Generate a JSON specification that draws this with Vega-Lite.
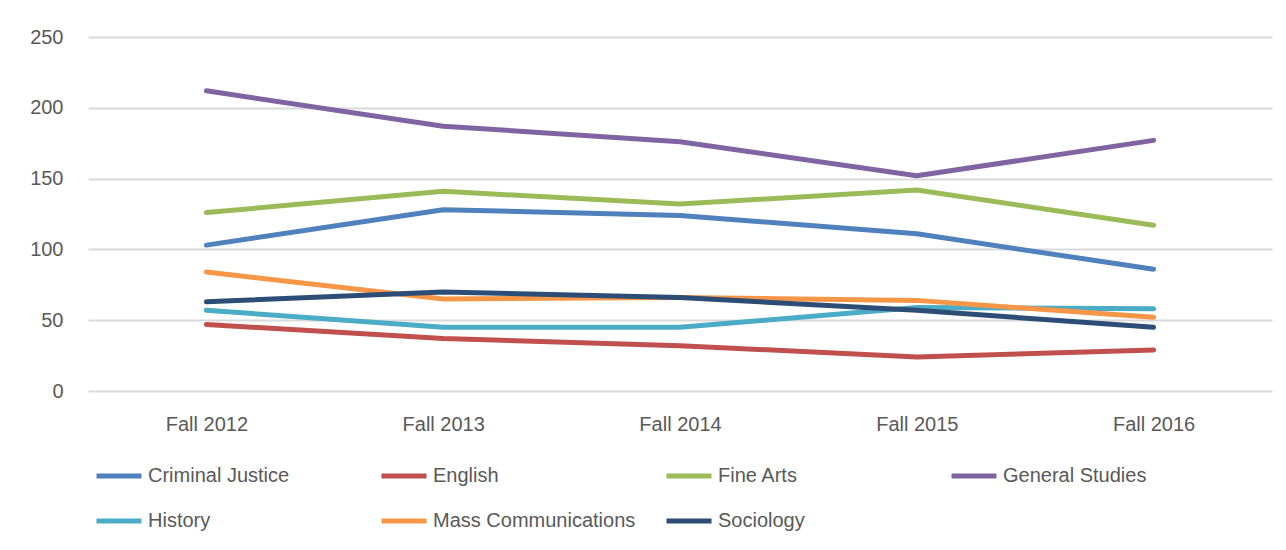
{
  "$schema": "https://vega.github.io/schema/vega-lite/v6.json",
  "width": 1184,
  "height": 354,
  "autosize": {"type": "none"},
  "padding": {"left": 88, "top": 37, "right": 14, "bottom": 159},
  "background": "white",
  "config": {
    "view": {"stroke": null},
    "font": "Liberation Sans",
    "axis": {"labelColor": "#595959", "labelFont": "Liberation Sans", "labelFontSize": 20}
  },
  "data": {
    "values": [
      {"term": "Fall 2012", "major": "Criminal Justice", "count": 103},
      {"term": "Fall 2013", "major": "Criminal Justice", "count": 128},
      {"term": "Fall 2014", "major": "Criminal Justice", "count": 124},
      {"term": "Fall 2015", "major": "Criminal Justice", "count": 111},
      {"term": "Fall 2016", "major": "Criminal Justice", "count": 86},
      {"term": "Fall 2012", "major": "English", "count": 47},
      {"term": "Fall 2013", "major": "English", "count": 37},
      {"term": "Fall 2014", "major": "English", "count": 32},
      {"term": "Fall 2015", "major": "English", "count": 24},
      {"term": "Fall 2016", "major": "English", "count": 29},
      {"term": "Fall 2012", "major": "Fine Arts", "count": 126},
      {"term": "Fall 2013", "major": "Fine Arts", "count": 141},
      {"term": "Fall 2014", "major": "Fine Arts", "count": 132},
      {"term": "Fall 2015", "major": "Fine Arts", "count": 142},
      {"term": "Fall 2016", "major": "Fine Arts", "count": 117},
      {"term": "Fall 2012", "major": "General Studies", "count": 212},
      {"term": "Fall 2013", "major": "General Studies", "count": 187},
      {"term": "Fall 2014", "major": "General Studies", "count": 176},
      {"term": "Fall 2015", "major": "General Studies", "count": 152},
      {"term": "Fall 2016", "major": "General Studies", "count": 177},
      {"term": "Fall 2012", "major": "History", "count": 57},
      {"term": "Fall 2013", "major": "History", "count": 45},
      {"term": "Fall 2014", "major": "History", "count": 45},
      {"term": "Fall 2015", "major": "History", "count": 59},
      {"term": "Fall 2016", "major": "History", "count": 58},
      {"term": "Fall 2012", "major": "Mass Communications", "count": 84},
      {"term": "Fall 2013", "major": "Mass Communications", "count": 65},
      {"term": "Fall 2014", "major": "Mass Communications", "count": 66},
      {"term": "Fall 2015", "major": "Mass Communications", "count": 64},
      {"term": "Fall 2016", "major": "Mass Communications", "count": 52},
      {"term": "Fall 2012", "major": "Sociology", "count": 63},
      {"term": "Fall 2013", "major": "Sociology", "count": 70},
      {"term": "Fall 2014", "major": "Sociology", "count": 66},
      {"term": "Fall 2015", "major": "Sociology", "count": 57},
      {"term": "Fall 2016", "major": "Sociology", "count": 45}
    ]
  },
  "mark": {"type": "line", "strokeWidth": 5, "strokeCap": "round", "strokeJoin": "round"},
  "encoding": {
    "x": {
      "field": "term",
      "type": "ordinal",
      "scale": {"type": "point", "padding": 0.5},
      "axis": {"title": null, "labelAngle": 0, "domain": false, "ticks": false, "grid": false, "labelPadding": 23}
    },
    "y": {
      "field": "count",
      "type": "quantitative",
      "scale": {"domain": [0, 250], "nice": false},
      "axis": {"title": null, "values": [0, 50, 100, 150, 200, 250], "domain": false, "ticks": false, "grid": true, "gridColor": "#d9d9d9", "gridWidth": 2, "labelPadding": 25}
    },
    "color": {
      "field": "major",
      "type": "nominal",
      "scale": {
        "domain": ["Criminal Justice", "English", "Fine Arts", "General Studies", "History", "Mass Communications", "Sociology"],
        "range": ["#4F81BD", "#C0504D", "#9BBB59", "#8064A2", "#4BACC6", "#F79646", "#2C4D75"]
      },
      "legend": {
        "title": null,
        "orient": "none",
        "legendX": 6,
        "legendY": 414,
        "direction": "horizontal",
        "columns": 4,
        "gridAlign": "all",
        "symbolType": "stroke",
        "symbolSize": 2025,
        "symbolStrokeWidth": 5,
        "labelFontSize": 20,
        "labelColor": "#595959",
        "labelOffset": 4,
        "columnPadding": 20,
        "rowPadding": 10,
        "labelLimit": 300
      }
    }
  }
}
